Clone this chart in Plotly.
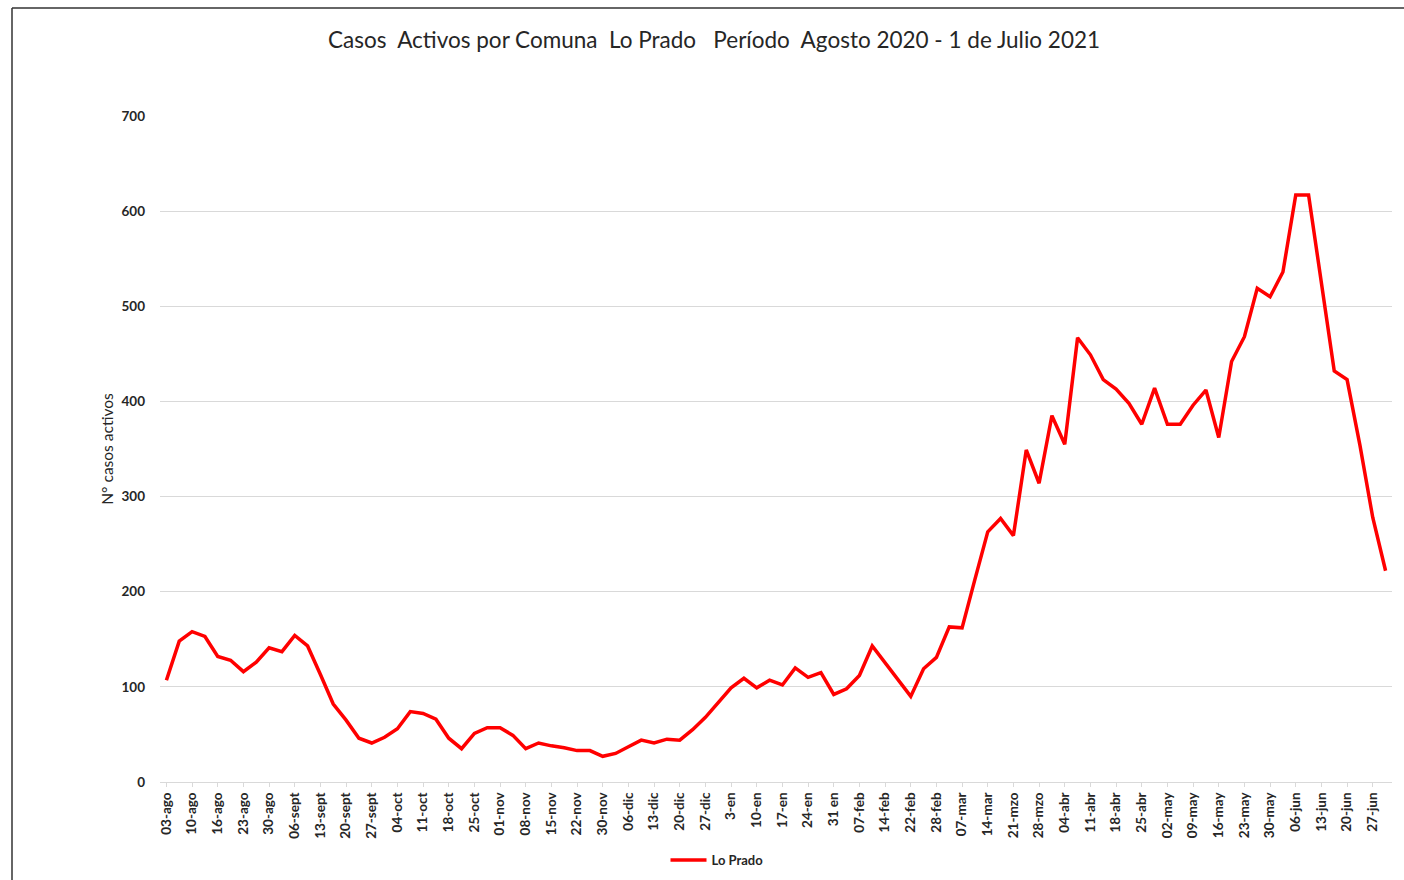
import plotly.graph_objects as go

# Twice-weekly active cases, Lo Prado (Aug 2020 - 1 Jul 2021)
casos_activos = [
    107, 148, 158, 153, 132, 128, 116, 126, 141, 137,
    154, 143, 113, 82, 65, 46, 41, 47, 56, 74,
    72, 66, 46, 35, 51, 57, 57, 49, 35, 41,
    38, 36, 33, 33, 27, 30, 37, 44, 41, 45,
    44, 55, 68, 83, 99, 109, 99, 107, 102, 120,
    110, 115, 92, 98, 112, 143, 125, 107, 90, 119,
    131, 163, 162, 213, 263, 277, 259, 349, 314, 385,
    355, 467, 449, 423, 413, 398, 376, 414, 376, 376,
    396, 412, 362, 442, 468, 519, 510, 536, 617, 617,
    525, 432, 423, 354, 278, 222,
]

etiquetas_fecha = [
    "03-ago", "10-ago", "16-ago", "23-ago", "30-ago", "06-sept", "13-sept",
    "20-sept", "27-sept", "04-oct", "11-oct", "18-oct", "25-oct", "01-nov",
    "08-nov", "15-nov", "22-nov", "30-nov", "06-dic", "13-dic", "20-dic",
    "27-dic", "3-en", "10-en", "17-en", "24-en", "31 en", "07-feb", "14-feb",
    "22-feb", "28-feb", "07-mar", "14-mar", "21-mzo", "28-mzo", "04-abr",
    "11-abr", "18-abr", "25-abr", "02-may", "09-may", "16-may", "23-may",
    "30-may", "06-jun", "13-jun", "20-jun", "27-jun",
]

y_ticks = [0, 100, 200, 300, 400, 500, 600, 700]

x_idx = list(range(len(casos_activos)))
tick_pos = x_idx[::2][:len(etiquetas_fecha)]

fig = go.Figure()
fig.add_trace(go.Scatter(
    x=x_idx, y=casos_activos, mode="lines", name="Lo Prado",
    line=dict(color="#FF0000", width=3.5),
))

FONT = "Lato"
fig.update_layout(
    width=1404, height=880,
    paper_bgcolor="white", plot_bgcolor="white",
    margin=dict(l=160, r=12, t=116, b=98, autoexpand=False),
    title=dict(
        text="Casos  Activos por Comuna  Lo Prado   Período  Agosto 2020 - 1 de Julio 2021",
        x=714 / 1404, xref="container", xanchor="center", y=1 - 40 / 880, yanchor="middle",
        font=dict(family=FONT, size=22.5, color="#262626"),
    ),
    showlegend=True,
    legend=dict(
        orientation="h", xref="container", yref="container",
        x=717 / 1404, xanchor="center", y=1 - 860 / 880, yanchor="middle",
        font=dict(family=FONT, size=13, color="#262626", weight="bold"),
        bgcolor="rgba(0,0,0,0)", itemwidth=36,
    ),
    font=dict(family=FONT),
)

fig.update_xaxes(
    range=[-0.5, len(casos_activos) - 0.5], automargin=False,
    tickmode="array", tickvals=tick_pos, ticktext=etiquetas_fecha,
    tickangle=-90, tickfont=dict(family=FONT, size=13.5, color="#262626", weight="bold"),
    showgrid=False, zeroline=False,
    showline=True, linecolor="#d9d9d9", linewidth=1,
    ticks="outside", ticklen=4, tickcolor="#d9d9d9",
)

fig.update_yaxes(
    range=[0, 700], tickmode="array", tickvals=y_ticks, automargin=False,
    tickfont=dict(family=FONT, size=13.5, color="#262626", weight="bold"),
    showgrid=True, gridcolor="#d9d9d9", gridwidth=1,
    zeroline=False, showline=False, ticklabelstandoff=14,
    title=dict(text="N° casos activos", standoff=4,
               font=dict(family=FONT, size=15.5, color="#262626")),
)

# chart frame (top and left edges)
x_left = (12 - 160) / 1232
x_right = (1404 - 160) / 1232
y_top = (782 - 8) / 666
y_bot = (782 - 880) / 666
fig.add_shape(type="line", xref="paper", yref="paper", x0=x_left, x1=x_right,
              y0=y_top, y1=y_top, line=dict(color="#333333", width=1.5))
fig.add_shape(type="line", xref="paper", yref="paper", x0=x_left, x1=x_left,
              y0=y_top, y1=y_bot, line=dict(color="#333333", width=1.5))

fig.write_html(
    "out.html",
    config={"displayModeBar": False},
    post_script="document.body.style.margin='0';document.body.style.overflow='hidden';",
)
